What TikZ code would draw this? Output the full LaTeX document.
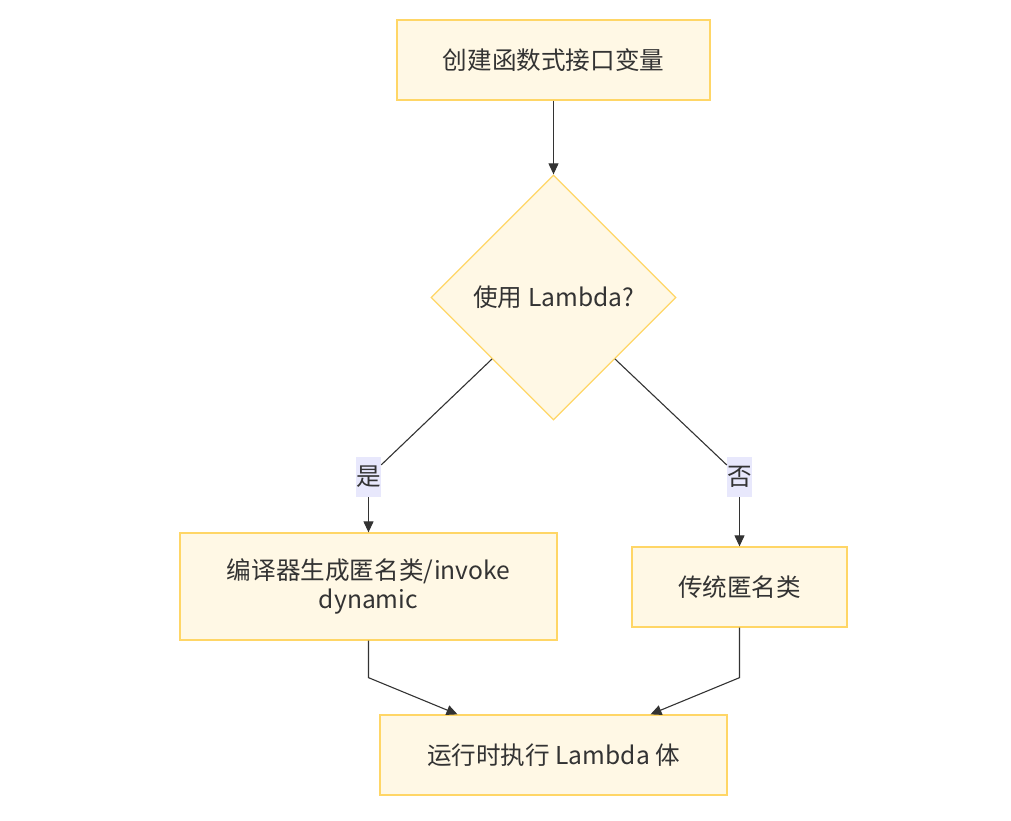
\documentclass[tikz,border=0pt]{standalone}
\usepackage{fontspec}
\setmainfont{Noto Sans CJK SC}
\usetikzlibrary{shapes.geometric, arrows.meta, calc}
\definecolor{boxfill}{HTML}{FFF8E5}
\definecolor{boxline}{HTML}{FFD666}
\definecolor{lblfill}{HTML}{E8E8FC}
\definecolor{ink}{HTML}{333333}
\tikzset{
  stepbox/.style={draw=boxline, fill=boxfill, line width=1.3pt, inner sep=0pt, align=center, text=ink},
  choice/.style={diamond, draw=boxline, fill=boxfill, line width=1.3pt, inner sep=0pt, aspect=1, minimum width=245, minimum height=245, text=ink},
  lbl/.style={fill=lblfill, inner sep=0pt, minimum width=25, minimum height=40, text=ink},
  flow/.style={draw=ink, line width=1.1pt, -{Triangle[length=11pt, width=10pt]}},
}
\begin{document}
\begin{tikzpicture}[x=1pt, y=-1pt, font=\fontsize{24.6}{29}\selectfont]
\useasboundingbox (0,0) rectangle (1011,820);
\node[stepbox, minimum width=313, minimum height=80] (make) at (553.5, 60) {创建函数式接口变量};
\node[choice] (uselam) at (553.5, 297.5) {使用 Lambda?};
\node[stepbox, minimum width=377, minimum height=107] (comp) at (368.5, 586.5) {编译器生成匿名类/invoke\\dynamic};
\node[stepbox, minimum width=215, minimum height=80] (anon) at (739.5, 587) {传统匿名类};
\node[stepbox, minimum width=347, minimum height=80] (run) at (553.5, 755) {运行时执行 Lambda 体};
\node[lbl] (yes) at (368.5, 477) {是};
\node[lbl] (no) at (739.5, 477) {否};
% connectors
\draw[flow] (make) -- (uselam);
\draw[draw=ink, line width=1.1pt] ($(uselam.west)!.5!(uselam.south)$) -- (yes);
\draw[flow] (yes) -- (comp);
\draw[draw=ink, line width=1.1pt] ($(uselam.east)!.5!(uselam.south)$) -- (no);
\draw[flow] (no) -- (anon);
\draw[flow] (comp.south) -- ++(0,37) -- ($(run.north)+(-96,0)$);
\draw[flow] (anon.south) -- ++(0,50) -- ($(run.north)+(97,0)$);
\end{tikzpicture}
\end{document}
